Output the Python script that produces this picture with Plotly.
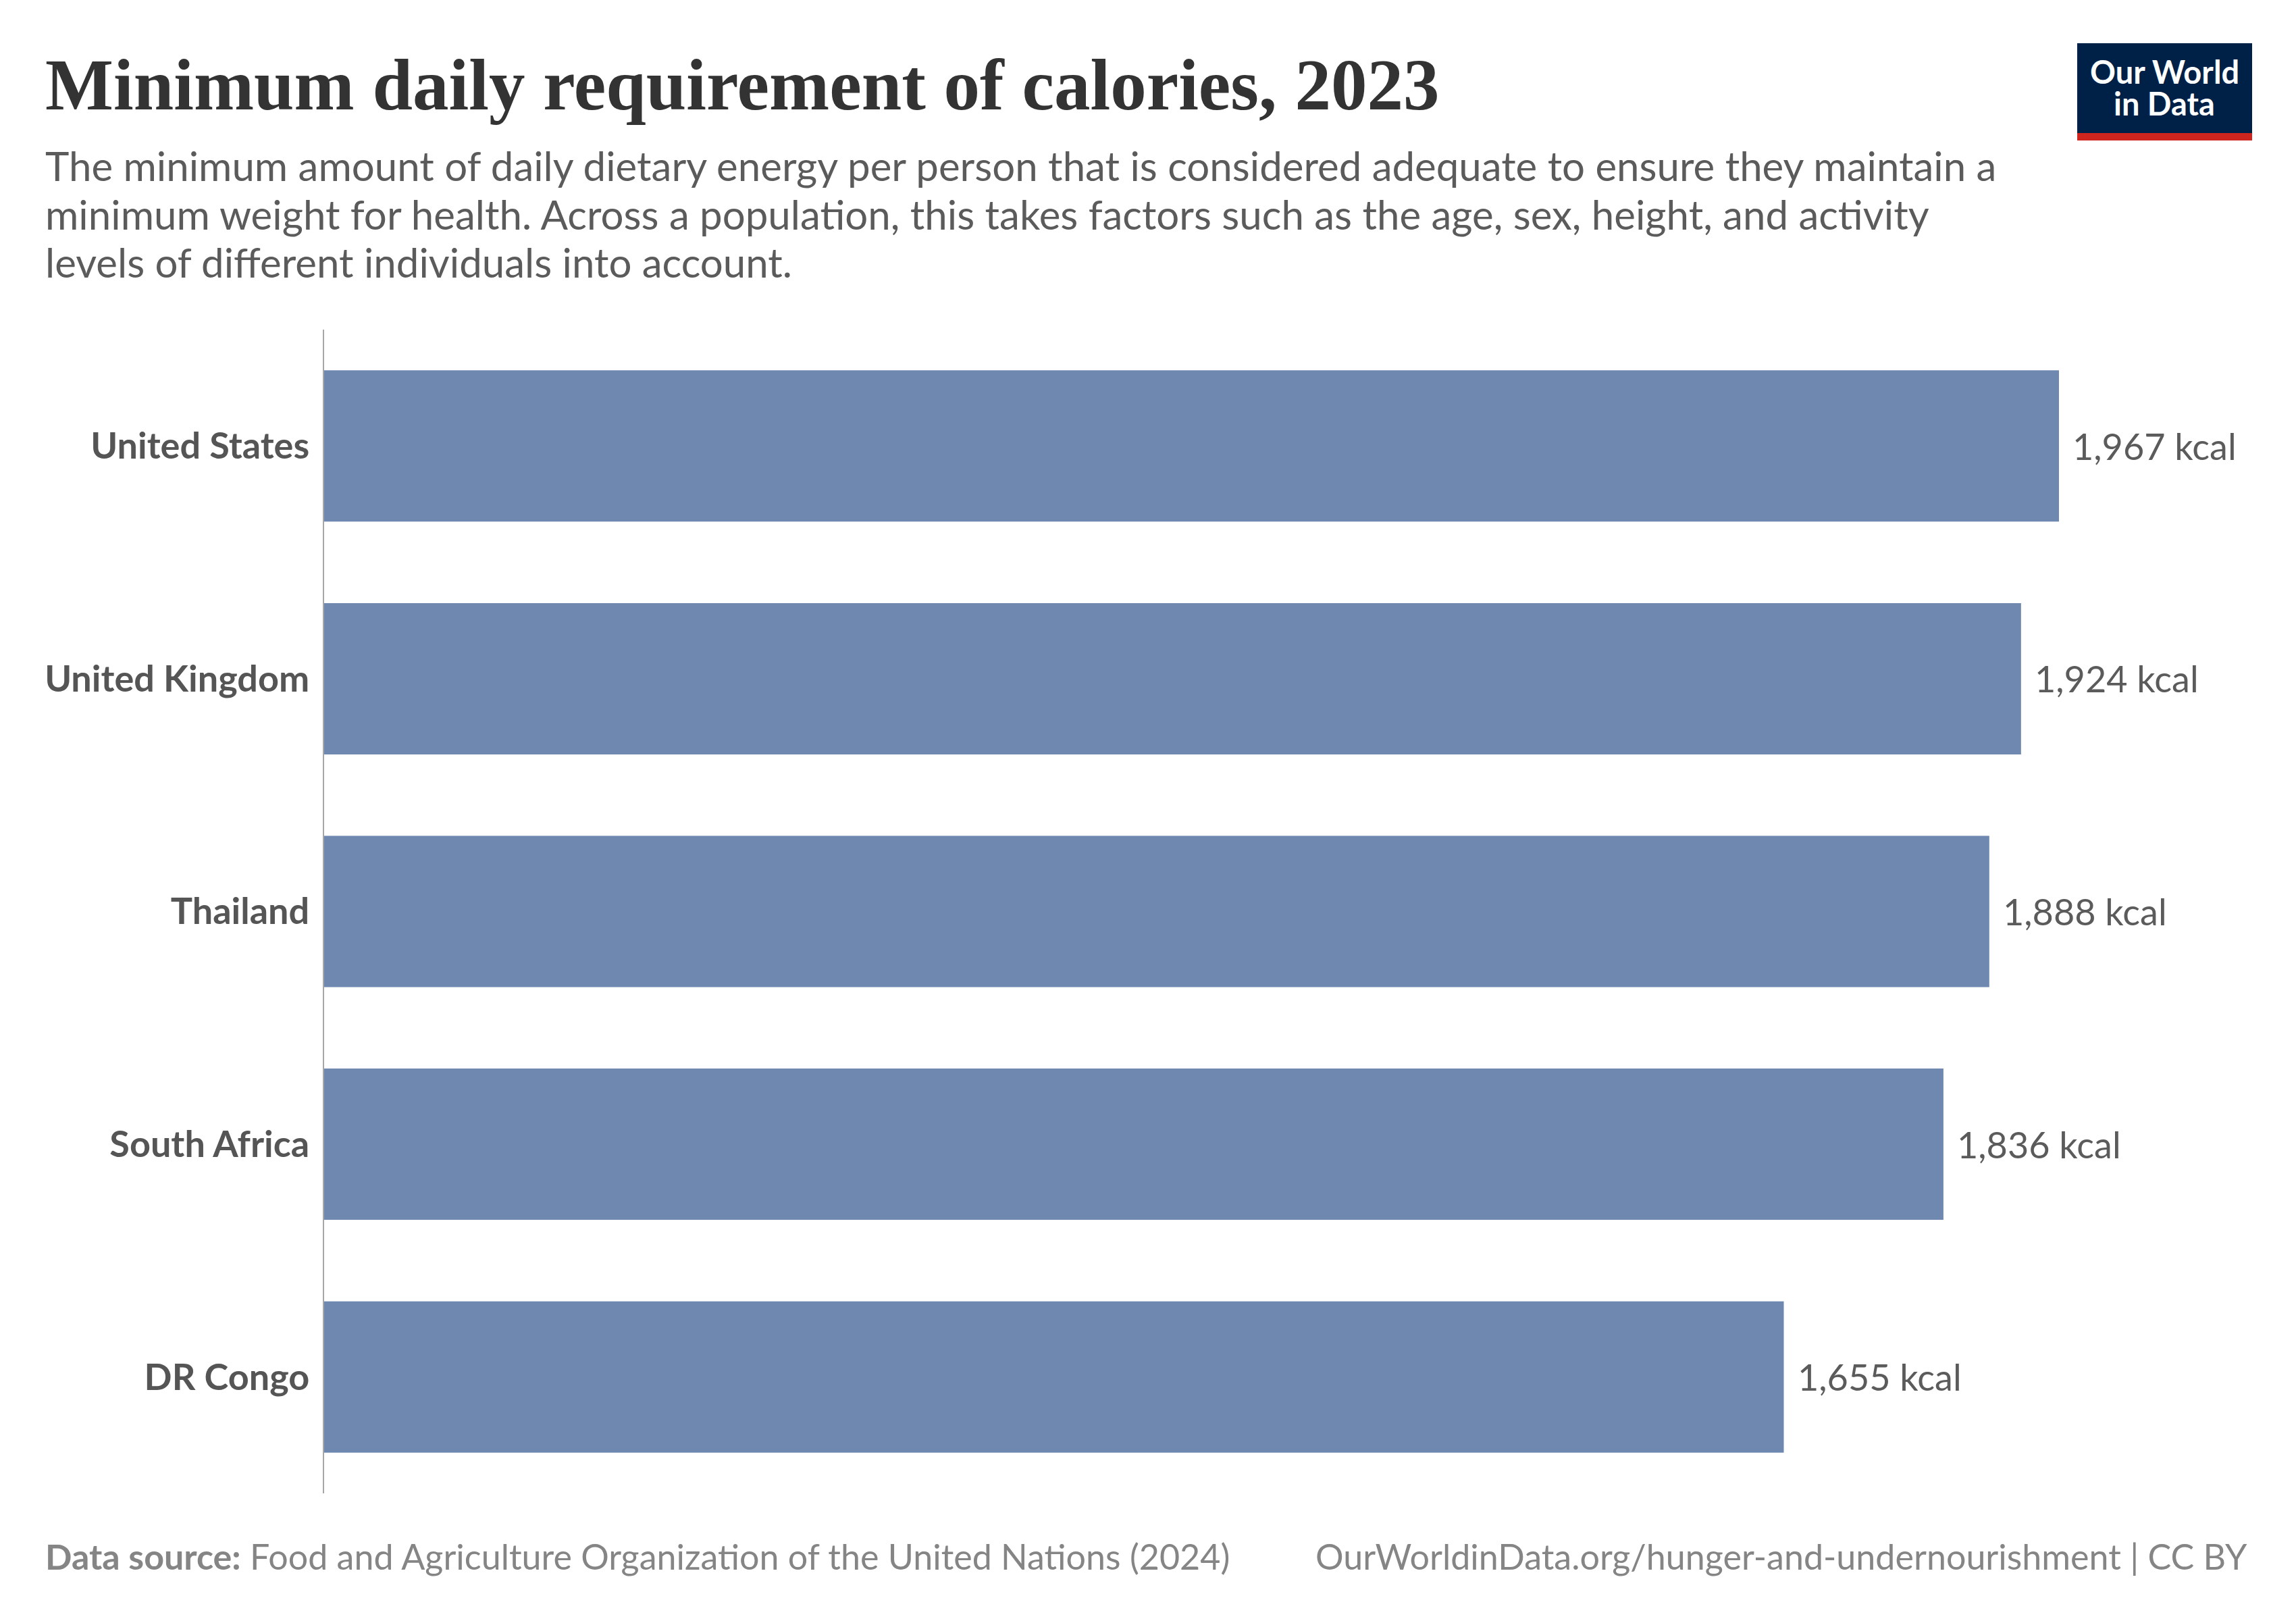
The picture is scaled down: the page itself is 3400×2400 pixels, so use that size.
import plotly.graph_objects as go

# ---- data ----
countries = ["United States", "United Kingdom", "Thailand", "South Africa", "DR Congo"]
kcal = [1967, 1924, 1888, 1836, 1655]
value_labels = ["1,967 kcal", "1,924 kcal", "1,888 kcal", "1,836 kcal", "1,655 kcal"]

title_text = "Minimum daily requirement of calories, 2023"
subtitle_lines = [
    "The minimum amount of daily dietary energy per person that is considered adequate to ensure they maintain a",
    "minimum weight for health. Across a population, this takes factors such as the age, sex, height, and activity",
    "levels of different individuals into account.",
]
source_text = "<b>Data source:</b> Food and Agriculture Organization of the United Nations (2024)"
url_text = "OurWorldinData.org/hunger-and-undernourishment | CC BY"

# ---- layout geometry (page pixels; browser body margin is 8px) ----
OFF = 8
W, H = 3400 - OFF, 2400 - OFF
PL, PR = 480, 3335      # plot area left/right (page px)
PT, PB = 488, 2211      # plot area top/bottom (page px)
XMAX = (3049 - PL) / 1967 * 0 + (PR - PL) / ((3049 - PL) / 1967)

def yp(py):
    return (PB - py) / (PB - PT)

def xp(px):
    return (px - PL) / (PR - PL)

BAR = "#6F88AF"
LABEL = "#555555"
SUB = "#5b5b5b"
FOOT = "#858585"

fig = go.Figure()
fig.add_trace(go.Bar(
    x=kcal, y=countries, orientation="h",
    marker=dict(color=BAR, line=dict(width=0)),
    hoverinfo="skip", showlegend=False,
))

annotations = []
# value labels
for c, v, t in zip(countries, kcal, value_labels):
    annotations.append(dict(
        x=v, y=c, xref="x", yref="y", text=t, showarrow=False,
        xanchor="left", yanchor="middle", xshift=18,
        font=dict(family="Lato", size=54, color=SUB),
    ))

# title
annotations.append(dict(
    x=xp(65), y=yp(126), xref="paper", yref="paper", text=title_text,
    showarrow=False, xanchor="left", yanchor="middle",
    font=dict(family="Liberation Serif", size=107, color="#333333", weight=700),
))
# subtitle lines
for line, cy in zip(subtitle_lines, [245, 317, 388]):
    annotations.append(dict(
        x=xp(65), y=yp(cy), xref="paper", yref="paper", text=line,
        showarrow=False, xanchor="left", yanchor="middle",
        font=dict(family="Lato", size=60, color=SUB),
    ))
# footer
annotations.append(dict(
    x=xp(65), y=yp(2304), xref="paper", yref="paper", text=source_text,
    showarrow=False, xanchor="left", yanchor="middle",
    font=dict(family="Lato", size=52, color=FOOT),
))
annotations.append(dict(
    x=xp(3330), y=yp(2304), xref="paper", yref="paper", text=url_text,
    showarrow=False, xanchor="right", yanchor="middle",
    font=dict(family="Lato", size=52, color=FOOT),
))
# logo text
for t, cy in [("Our World", 106), ("in Data", 153)]:
    annotations.append(dict(
        x=xp(3205), y=yp(cy), xref="paper", yref="paper", text=t,
        showarrow=False, xanchor="center", yanchor="middle",
        font=dict(family="Lato", size=47, color="#ffffff", weight=700),
    ))

shapes = [
    dict(type="rect", xref="paper", yref="paper",
         x0=xp(3076), x1=xp(3335), y0=yp(197), y1=yp(64),
         fillcolor="#002147", line=dict(width=0), layer="above"),
    dict(type="rect", xref="paper", yref="paper",
         x0=xp(3076), x1=xp(3335), y0=yp(208), y1=yp(197),
         fillcolor="#CE261E", line=dict(width=0), layer="above"),
]

fig.update_layout(
    width=W, height=H,
    margin=dict(l=PL - OFF, r=3400 - PR, t=PT - OFF, b=2400 - PB, pad=0),
    paper_bgcolor="white", plot_bgcolor="white",
    bargap=0.35,
    annotations=annotations, shapes=shapes,
    xaxis=dict(range=[0, XMAX], visible=False, fixedrange=True),
    yaxis=dict(
        categoryorder="array", categoryarray=countries,
        range=[4.5, -0.5],
        showline=True, linecolor="#a6a6a6", linewidth=2,
        showgrid=False, zeroline=False, ticks="",
        ticklabelstandoff=9,
        tickfont=dict(family="Lato", size=54, color=LABEL, weight=700),
        fixedrange=True,
    ),
)

fig.write_html("out.html")
